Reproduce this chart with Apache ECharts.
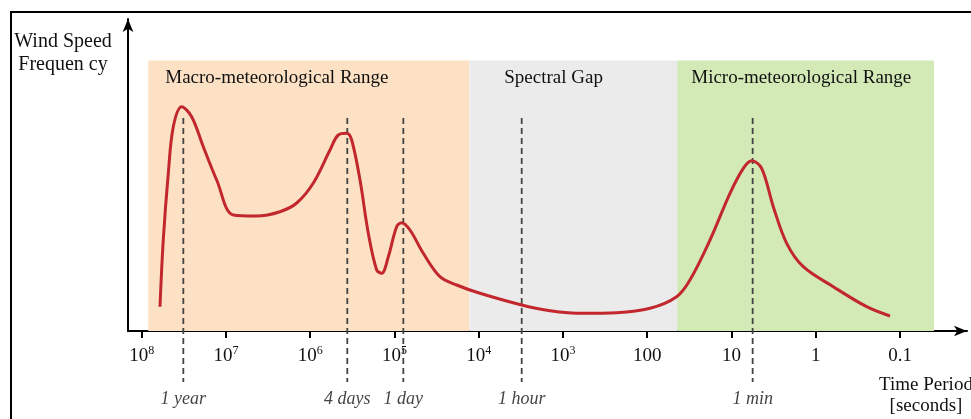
<!DOCTYPE html>
<html><head><meta charset="utf-8">
<script src="https://cdn.jsdelivr.net/npm/echarts@6/dist/echarts.min.js"></script>
<style>html,body{margin:0;padding:0;background:#fff}#c{width:971px;height:419px}</style>
</head><body><div id="c"></div>
<script>
// x: log10 of time period [seconds]; y: relative wind speed spectral amplitude
const curveLogPeriod = [7.783,7.744,7.684,7.625,7.525,7.407,7.269,7.110,6.913,6.635,6.359,6.160,5.963,5.765,5.667,5.567,5.508,5.409,5.311,5.211,5.152,5.073,4.974,4.914,4.816,4.658,4.460,4.262,3.985,3.490,3.154,2.759,2.363,1.967,1.651,1.493,1.255,1.018,0.860,0.760,0.642,0.504,0.345,0.148,-0.208,-0.604,-0.881];
const curveValue = [24.3,91,158,204.3,224.3,214.3,184.3,151,116,115,119.3,128,148,181,196,197.7,191,151,98,61,57.7,74.3,104.3,108.3,101,77.7,54.3,46,37.7,26,20.3,17.7,18.3,22.7,34.3,51,91,137.7,162.7,170.3,162.7,124.3,87.7,64.3,44.3,24.3,15];

const tickLogPeriod = [8,7,6,5,4,3,2,1,0,-1];
const tickLabels = ['10^8','10^7','10^6','10^5','10^4','10^3','100','10','1','0.1'];

const markerNames = ['1 year','4 days','1 day','1 hour','1 min'];
const markerLogPeriod = [7.506,5.560,4.895,3.490,0.749];
const markerTop = 213;
const markerBottom = -51;

const bandNames = ['Macro-meteorological Range','Spectral Gap','Micro-meteorological Range'];
const bandFromLog = [7.922,4.112,1.644];
const bandToLog = [4.112,1.644,-1.403];
const bandColors = ['#FDE1C4','#EBEBEB','#D3E9B6'];
const bandLabelOffset = [17,35,14];
const bandTop = 270.5;

const yAxisTitle = 'Wind Speed\nFrequen cy';
const xAxisTitle = 'Time Period\n[seconds]';

const FONT = 'Liberation Serif';
const TXT = '#111';
const chart = echarts.init(document.getElementById('c'), null, {renderer: 'canvas'});

const xVals = tickLogPeriod.map(v => -v);

function tickFmt(v) {
  const idx = tickLogPeriod.indexOf(Math.round(-v) + 0);
  if (idx < 0) return '';
  const s = tickLabels[idx];
  if (s.indexOf('^') >= 0) {
    const p = s.split('^');
    return '{b|' + p[0] + '}{s|' + p[1] + '}';
  }
  return '{b|' + s + '}';
}

const series = [];

// bands
series.push({
  type: 'line', data: [], z: 1, silent: true,
  markArea: {
    silent: true,
    data: bandNames.map((n, i) => [
      {name: n, xAxis: -bandFromLog[i], yAxis: bandTop,
       itemStyle: {color: bandColors[i]},
       label: {show: true, position: 'insideTopLeft', offset: [bandLabelOffset[i] - 5, 3],
               color: TXT, fontFamily: FONT, fontSize: 19}},
      {xAxis: -bandToLog[i], yAxis: 0}
    ])
  }
});

// dashed markers
markerNames.forEach((n, i) => {
  series.push({
    type: 'line', z: 3, clip: false, symbol: 'none', silent: true,
    data: [[-markerLogPeriod[i], markerTop], [-markerLogPeriod[i], markerBottom]],
    lineStyle: {color: '#444', width: 1.8, type: [6, 4]}
  });
});
series.push({
  type: 'scatter', z: 3, clip: false, symbolSize: 0, silent: true,
  data: markerNames.map((n, i) => ({name: n, value: [-markerLogPeriod[i], markerBottom]})),
  label: {show: true, position: 'bottom', distance: 8, formatter: p => p.name,
          color: TXT, fontFamily: FONT, fontStyle: 'italic', fontSize: 18}
});

// curve
series.push({
  type: 'line', z: 5, smooth: 0.35, symbol: 'none',
  data: curveLogPeriod.map((x, i) => [-x, curveValue[i]]),
  lineStyle: {color: '#C1272D', width: 3}
});

chart.setOption({
  animation: false,
  backgroundColor: '#fff',
  grid: {left: 128, right: 4, top: 19, bottom: 88, containLabel: false},
  xAxis: {
    type: 'value', min: -8.1626, max: 1.795,
    axisLine: {show: true, onZero: false, symbol: ['none', 'arrow'], symbolSize: [8, 13],
               lineStyle: {color: '#000', width: 2}},
    axisTick: {show: true, customValues: xVals, length: 7, lineStyle: {color: '#000', width: 2}},
    axisLabel: {show: true, customValues: xVals, margin: 14, formatter: tickFmt,
      rich: {
        b: {fontFamily: FONT, fontSize: 19, color: TXT, lineHeight: 22},
        s: {fontFamily: FONT, fontSize: 12, color: TXT, lineHeight: 12, verticalAlign: 'top'}
      }},
    splitLine: {show: false}
  },
  yAxis: {
    type: 'value', min: 0, max: 312,
    axisLine: {show: true, onZero: false, symbol: ['none', 'arrow'], symbolSize: [8, 13],
               lineStyle: {color: '#000', width: 2}},
    axisTick: {show: false}, axisLabel: {show: false}, splitLine: {show: false}
  },
  graphic: [
    {type: 'rect', z: 100, silent: true, shape: {x: 11, y: 12, width: 1200, height: 600},
     style: {fill: null, stroke: '#000', lineWidth: 2}},
    {type: 'text', z: 100, x: 63, y: 53, silent: true,
     style: {text: yAxisTitle, fontFamily: FONT, fontSize: 20, lineHeight: 23.5, fill: TXT,
             align: 'center', verticalAlign: 'middle'}},
    {type: 'text', z: 100, x: 926, y: 396, silent: true,
     style: {text: xAxisTitle, fontFamily: FONT, fontSize: 19, lineHeight: 21, fill: TXT,
             align: 'center', verticalAlign: 'middle'}}
  ],
  series: series
});
</script></body></html>
